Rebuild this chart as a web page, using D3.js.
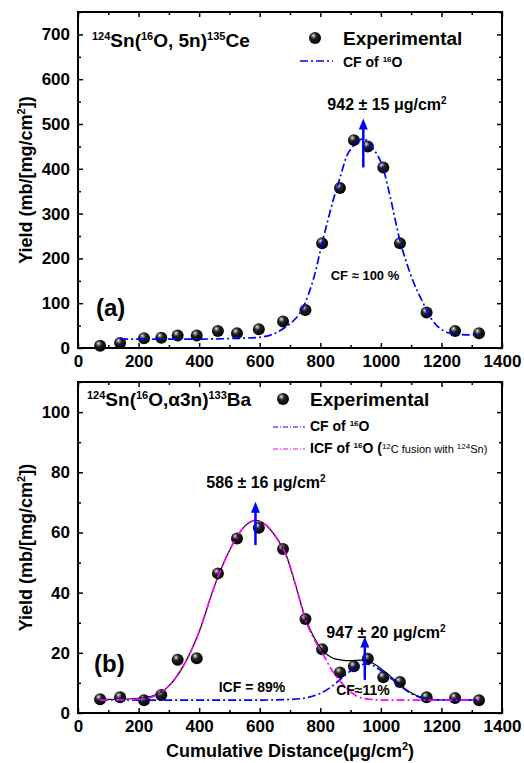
<!DOCTYPE html>
<html>
<head>
<meta charset="utf-8">
<script src="https://cdn.jsdelivr.net/npm/d3@7"></script>
<style>
  body { margin: 0; background: #fff; }
  svg text { font-family: "Liberation Sans", Arial, sans-serif; font-weight: bold; fill: #000; }
</style>
</head>
<body>
<svg id="root" width="524" height="763"></svg>
<script>
const d3 = window.d3

// cumulative distance of each foil (µg/cm²), same for both panels
const distance = [73, 139, 218, 275, 329, 392, 462, 525, 597, 677, 751, 806, 865, 911, 957, 1008, 1063, 1151, 1245, 1324]

// panel (a): 124Sn(16O,5n)135Ce yield
const yieldCe = [5, 11, 22, 23, 28, 28, 38, 33, 42, 59, 85, 234, 357, 464, 450, 403, 234, 79, 38, 33]
// CF fit
const cfCeX = [139, 200, 300, 400, 500, 600, 640, 680, 710, 733, 760, 780, 806, 825, 843, 865, 887, 911, 941, 975, 1008, 1030, 1063, 1085, 1106, 1140, 1162, 1195, 1228, 1260, 1324]
const cfCeY = [20, 20, 20, 20, 21, 24, 30, 44, 60, 78, 118, 160, 234, 285, 331, 380, 428, 452, 467, 445, 400, 340, 240, 190, 150, 100, 70, 44, 33, 30, 29]

// panel (b): 124Sn(16O,a3n)133Ba yield
const yieldBa = [4.6, 5.2, 4.2, 6, 17.7, 18.2, 46.4, 58, 61.6, 54.5, 31.2, 21.2, 13.5, 15.5, 18, 11.9, 10.3, 5.2, 5.0, 4.2]
const icfBaX = [73, 150, 200, 250, 300, 350, 400, 450, 500, 550, 586, 620, 650, 689, 720, 751, 780, 806, 840, 870, 900, 930, 970, 1000, 1100, 1200, 1324]
const icfBaY = [4.3, 4.4, 4.6, 5.5, 9, 16, 27, 42, 54, 62, 64, 62.5, 59, 52, 42, 31, 24.5, 20, 14, 10, 7, 5.2, 4.5, 4.3, 4.3, 4.3, 4.3]
const cfBaX = [73, 300, 600, 700, 760, 800, 840, 870, 900, 930, 950, 980, 1010, 1040, 1070, 1100, 1130, 1160, 1200, 1324]
const cfBaY = [4.3, 4.3, 4.3, 4.5, 5.2, 6.5, 9, 11.5, 14, 15.8, 16.3, 15.5, 13.3, 11, 8.5, 6.5, 5.2, 4.5, 4.3, 4.3]
const sumBaX = [73, 150, 200, 250, 300, 350, 400, 450, 500, 550, 586, 620, 650, 689, 720, 751, 780, 806, 840, 870, 900, 930, 950, 980, 1010, 1040, 1070, 1100, 1130, 1160, 1200, 1324]
const sumBaY = [4.5, 4.6, 4.9, 5.8, 9, 16, 27, 42, 54, 62, 64, 62.5, 59, 52, 42, 31.5, 25, 21, 18.3, 17.6, 17.4, 17.6, 17.5, 16.2, 14, 11.5, 8.8, 6.7, 5.3, 4.6, 4.4, 4.3]

// ticks
const xTicks = [0, 200, 400, 600, 800, 1000, 1200, 1400]
const xMinor = [100, 300, 500, 700, 900, 1100, 1300]
const yTicksA = [0, 100, 200, 300, 400, 500, 600, 700]
const yMinorA = [50, 150, 250, 350, 450, 550, 650, 750]
const yTicksB = [0, 20, 40, 60, 80, 100]
const yMinorB = [10, 30, 50, 70, 90, 110]

const svg = d3.select('#root')
const defs = svg.append('defs')
const grad = defs.append('radialGradient')
  .attr('id', 'ball')
  .attr('cx', 0.4).attr('cy', 0.36).attr('r', 0.65)
  .attr('fx', 0.36).attr('fy', 0.3)
grad.append('stop').attr('offset', 0).attr('stop-color', '#ffffff')
grad.append('stop').attr('offset', 0.12).attr('stop-color', '#a0a0a0')
grad.append('stop').attr('offset', 0.4).attr('stop-color', '#222')
grad.append('stop').attr('offset', 1).attr('stop-color', '#000')

const left = 78
const right = 502
const x = d3.scaleLinear().domain([0, 1400]).range([left, right])

const dashDot = '8,3,2,3'
const fmt = d3.format('d')

// text with superscripts: parts = [[str, kind]]
function rich (g, px, py, size, parts, anchor) {
  const t = g.append('text')
    .attr('x', px).attr('y', py)
    .attr('font-size', size)
    .attr('text-anchor', anchor || 'start')
  let up = false
  parts.forEach(p => {
    const s = t.append('tspan').text(p[0])
    const small = p[1] === 's' || p[1] === 'sn'
    if (small) s.attr('font-size', Math.round(size * 0.6))
    if (p[1] === 'sn') s.attr('font-weight', 'normal')
    if (p[1] === 'n') s.attr('font-weight', 'normal').attr('font-size', Math.round(size * 0.8))
    if (p[1] === 's' && !up) { s.attr('dy', -size * 0.38); up = true }
    else if (p[1] === 'sn' && !up) { s.attr('dy', -size * 0.3); up = true }
    else if (!small && up) { s.attr('dy', p[1] === 'n' ? size * 0.3 : size * 0.38); up = false }
  })
  return t
}

function panel (top, bottom, yMax, yTicks, yMinor) {
  const y = d3.scaleLinear().domain([0, yMax]).range([bottom, top])
  const g = svg.append('g')

  const ax = (gen, tr) => g.append('g').attr('transform', tr).call(gen)
    .call(s => s.select('.domain').remove())
    .call(s => s.selectAll('line').attr('stroke-width', 1.5))

  ax(d3.axisBottom(x).tickValues(xTicks).tickSize(-5).tickPadding(7).tickFormat(fmt), `translate(0,${bottom})`)
    .selectAll('text').attr('font-size', 17)
  ax(d3.axisBottom(x).tickValues(xMinor).tickSize(-3).tickFormat(''), `translate(0,${bottom})`)
  ax(d3.axisTop(x).tickValues(xTicks).tickSize(-5).tickFormat(''), `translate(0,${top})`)
  ax(d3.axisTop(x).tickValues(xMinor).tickSize(-3).tickFormat(''), `translate(0,${top})`)
  ax(d3.axisLeft(y).tickValues(yTicks).tickSize(-5).tickPadding(8).tickFormat(fmt), `translate(${left},0)`)
    .selectAll('text').attr('font-size', 17)
  ax(d3.axisLeft(y).tickValues(yMinor).tickSize(-3).tickFormat(''), `translate(${left},0)`)
  ax(d3.axisRight(y).tickValues(yTicks).tickSize(-5).tickFormat(''), `translate(${right},0)`)
  ax(d3.axisRight(y).tickValues(yMinor).tickSize(-3).tickFormat(''), `translate(${right},0)`)

  g.append('rect')
    .attr('x', left).attr('y', top)
    .attr('width', right - left).attr('height', bottom - top)
    .attr('fill', 'none').attr('stroke', '#000').attr('stroke-width', 2)

  // y title
  const yt = g.append('text')
    .attr('transform', `translate(32,${(top + bottom) / 2}) rotate(-90)`)
    .attr('text-anchor', 'middle')
    .attr('font-size', 18)
  yt.append('tspan').text('Yield (mb/[mg/cm')
  yt.append('tspan').text('2').attr('font-size', 11).attr('dy', -7)
  yt.append('tspan').text('])').attr('dy', 7)

  return { g, y }
}

function balls (g, y, vals) {
  g.selectAll('circle.pt')
    .data(vals)
    .enter()
    .append('circle')
    .attr('class', 'pt')
    .attr('cx', (d, i) => x(distance[i]))
    .attr('cy', d => y(d))
    .attr('r', 6)
    .attr('fill', 'url(#ball)')
}

function curve (g, y, xs, ys, color, dash, w) {
  const line = d3.line()
    .x(d => x(d[0]))
    .y(d => y(d[1]))
    .curve(d3.curveMonotoneX)
  g.append('path')
    .datum(d3.zip(xs, ys))
    .attr('d', line)
    .attr('fill', 'none')
    .attr('stroke', color)
    .attr('stroke-width', w || 1.5)
    .attr('stroke-dasharray', dash)
}

function arrow (g, y, xv, from, to) {
  const px = x(xv)
  const y0 = y(from)
  const y1 = y(to)
  g.append('line')
    .attr('x1', px).attr('x2', px)
    .attr('y1', y0).attr('y2', y1 + 8)
    .attr('stroke', '#0000ff').attr('stroke-width', 2.5)
  g.append('path')
    .attr('d', `M${px},${y1} L${px - 4.5},${y1 + 11} L${px + 4.5},${y1 + 11} Z`)
    .attr('fill', '#0000ff')
}

function ballIcon (g, px, py) {
  g.append('circle').attr('cx', px).attr('cy', py).attr('r', 6).attr('fill', 'url(#ball)')
}

// ---------- panel (a)
const A = panel(12, 348, 750, yTicksA, yMinorA)
balls(A.g, A.y, yieldCe)
curve(A.g, A.y, cfCeX, cfCeY, '#0000ff', dashDot, 1.7)
arrow(A.g, A.y, 942, 403, 512)

rich(A.g, 92, 47, 19, [['124', 's'], ['Sn('], ['16', 's'], ['O, 5n)'], ['135', 's'], ['Ce']])
ballIcon(A.g, 315, 38)
A.g.append('text').attr('x', 343).attr('y', 45).attr('font-size', 19).text('Experimental')
A.g.append('line').attr('x1', 300).attr('x2', 333).attr('y1', 61).attr('y2', 61)
  .attr('stroke', '#0000ff').attr('stroke-width', 1.4).attr('stroke-dasharray', dashDot)
rich(A.g, 343, 67, 14, [['CF of '], ['16', 's'], ['O']])
rich(A.g, 387, 110, 16, [['942 \u00b1 15 \u03bcg/cm'], ['2', 's']], 'middle')
A.g.append('text').attr('x', 365).attr('y', 280).attr('font-size', 13)
  .attr('text-anchor', 'middle').text('CF \u2248 100 %')
A.g.append('text').attr('x', 96).attr('y', 316).attr('font-size', 24).text('(a)')

// ---------- panel (b)
const B = panel(382, 713, 110, yTicksB, yMinorB)
balls(B.g, B.y, yieldBa)
curve(B.g, B.y, sumBaX, sumBaY, '#000', null, 1.2)
curve(B.g, B.y, cfBaX, cfBaY, '#0000ff', dashDot, 1.7)
curve(B.g, B.y, icfBaX, icfBaY, '#ff00ff', dashDot, 1.7)
arrow(B.g, B.y, 586, 55.8, 70.2)
arrow(B.g, B.y, 947, 11, 25.4)

rich(B.g, 87, 406, 19, [['124', 's'], ['Sn('], ['16', 's'], ['O,\u03b13n)'], ['133', 's'], ['Ba']])
ballIcon(B.g, 283, 399)
B.g.append('text').attr('x', 310).attr('y', 406).attr('font-size', 19).text('Experimental')
B.g.append('line').attr('x1', 273).attr('x2', 305).attr('y1', 427).attr('y2', 427)
  .attr('stroke', '#0000ff').attr('stroke-width', 1).attr('stroke-dasharray', '5,2,1,2')
rich(B.g, 310, 431, 14, [['CF of '], ['16', 's'], ['O']])
B.g.append('line').attr('x1', 273).attr('x2', 305).attr('y1', 449).attr('y2', 449)
  .attr('stroke', '#ff00ff').attr('stroke-width', 1).attr('stroke-dasharray', '5,2,1,2')
rich(B.g, 310, 453, 14, [['ICF of '], ['16', 's'], ['O ('], ['12', 'sn'], ['C fusion with ', 'n'], ['124', 'sn'], ['Sn)', 'n']])
rich(B.g, 266, 488, 16, [['586 \u00b1 16 \u03bcg/cm'], ['2', 's']], 'middle')
rich(B.g, 386, 638, 16, [['947 \u00b1 20 \u03bcg/cm'], ['2', 's']], 'middle')
B.g.append('text').attr('x', 252).attr('y', 692).attr('font-size', 14)
  .attr('text-anchor', 'middle').text('ICF = 89%')
B.g.append('text').attr('x', 363).attr('y', 695).attr('font-size', 14)
  .attr('text-anchor', 'middle').text('CF\u224811%')
B.g.append('text').attr('x', 94).attr('y', 672).attr('font-size', 24).text('(b)')

// x title
rich(svg, 290, 757, 18, [['Cumulative Distance(\u03bcg/cm'], ['2', 's'], [')']], 'middle')
</script>
</body>
</html>
